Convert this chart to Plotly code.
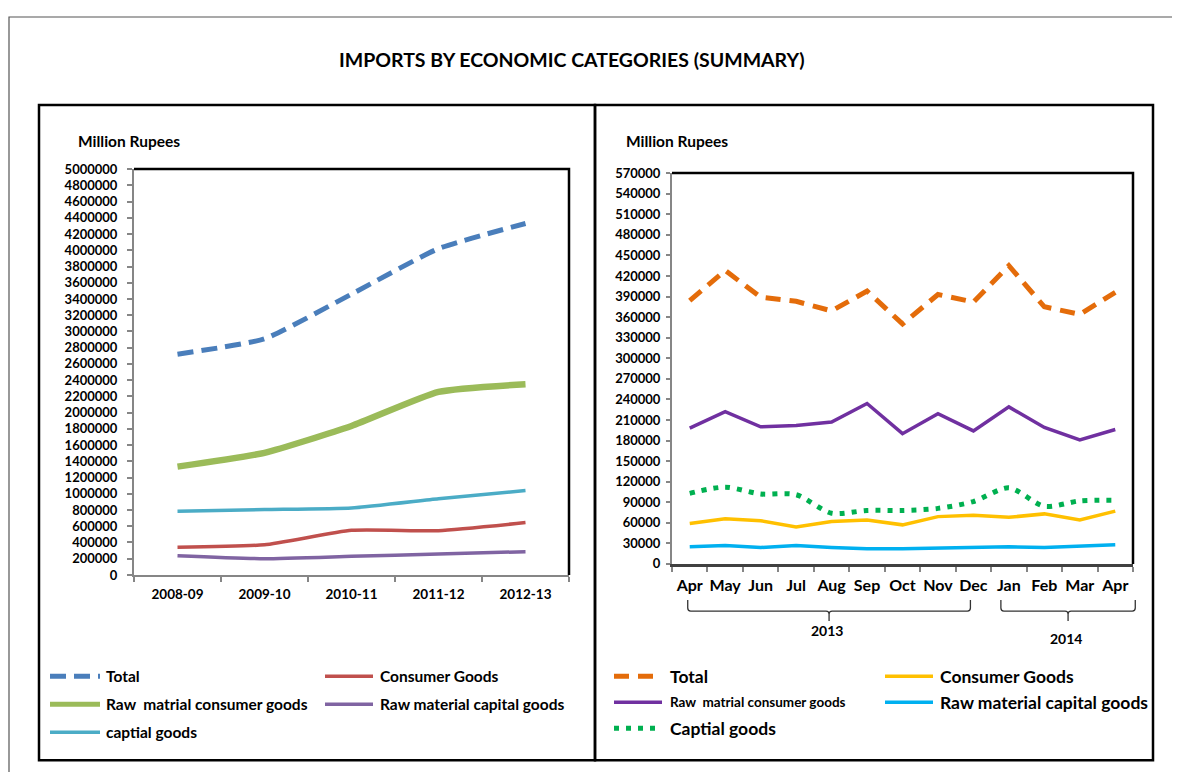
import plotly.graph_objects as go

# ---------------- data: left panel (annual) ----------------
years = ["2008-09", "2009-10", "2010-11", "2011-12", "2012-13"]
annual_total = [2720000, 2910000, 3460000, 4020000, 4330000]
annual_consumer = [340000, 372000, 550000, 546000, 645000]
annual_raw_consumer = [1335000, 1505000, 1835000, 2255000, 2350000]
annual_raw_capital = [237000, 200000, 229000, 257000, 287000]
annual_capital = [785000, 805000, 825000, 938000, 1040000]

# ---------------- data: right panel (monthly) ----------------
months = ["Apr", "May", "Jun", "Jul", "Aug", "Sep", "Oct", "Nov", "Dec", "Jan", "Feb", "Mar", "Apr"]
month_years = ["2013", "2014"]
month_year_counts = [9, 4]
monthly_total = [384000, 428000, 389000, 383000, 369000, 398000, 350000, 393000, 382000, 435000, 375000, 364000, 396000]
monthly_consumer = [59000, 66000, 63000, 54000, 62000, 64000, 57000, 69000, 71000, 68000, 73000, 64000, 77000]
monthly_raw_consumer = [198000, 222000, 200000, 202000, 207000, 234000, 190000, 219000, 194000, 229000, 199000, 181000, 196000]
monthly_raw_capital = [25000, 27000, 24000, 27000, 24000, 22000, 22000, 23000, 25000, 25000, 24000, 26000, 28000]
monthly_capital = [103000, 112000, 102000, 101000, 74000, 78000, 78000, 81000, 91000, 111000, 84000, 92000, 93000]

TITLE = "IMPORTS BY ECONOMIC CATEGORIES (SUMMARY)"
UNIT = "Million Rupees"

# page body keeps its default 8px margin, so the figure is sized to fill exactly 1180x780
PAGE_W, PAGE_H, BODY = 1180, 780, 8
W, H = PAGE_W - 2 * BODY, PAGE_H - 2 * BODY
# vertical calibration of the photographed page
SY, OY = 0.977, 8.4
FONT = "Lato"


def fx(px):
    return (px - BODY) / W


def fy(py):
    return 1 - ((py - OY) / SY - BODY) / H


# name, values, color, width, dash, legend column, legend row
left_series = [
    ("Total", annual_total, "#4A7EBB", 5, "16px,8px", 0, 0),
    ("Consumer Goods", annual_consumer, "#C0504D", 3.5, "solid", 1, 0),
    ("Raw \u00a0matrial consumer goods", annual_raw_consumer, "#9BBB59", 6.5, "solid", 0, 1),
    ("Raw material capital goods", annual_raw_capital, "#8064A2", 3.5, "solid", 1, 1),
    ("captial goods", annual_capital, "#4BACC6", 3.5, "solid", 0, 2),
]
# name, values, color, width, dash, line shape, legend font size, legend column, legend row
right_series = [
    ("Total", monthly_total, "#E46C0A", 5, "15px,9px", "linear", 17.5, 0, 0),
    ("Consumer Goods", monthly_consumer, "#FFC000", 3.5, "solid", "linear", 17.5, 1, 0),
    ("Raw \u00a0matrial consumer goods", monthly_raw_consumer, "#7030A0", 3.5, "solid", "linear", 13.5, 0, 1),
    ("Raw material capital goods", monthly_raw_capital, "#00B0F0", 3.5, "solid", "linear", 17.5, 1, 1),
    ("Captial goods", monthly_capital, "#00B050", 5, "5px,7px", "spline", 17.5, 0, 2),
]

fig = go.Figure()
shapes = []
annotations = []

for name, vals, color, width, dash, col, row in left_series:
    fig.add_trace(go.Scatter(
        x=years, y=vals, name=name, mode="lines", xaxis="x", yaxis="y",
        line=dict(color=color, width=width, dash=dash, shape="spline", smoothing=0.5),
        showlegend=False, hoverinfo="x+y+name"))

month_idx = list(range(len(months)))
for name, vals, color, width, dash, shp, fs, col, row in right_series:
    fig.add_trace(go.Scatter(
        x=month_idx, y=vals, name=name, mode="lines", xaxis="x2", yaxis="y2",
        line=dict(color=color, width=width, dash=dash, shape=shp,
                  **({"smoothing": 0.8} if shp == "spline" else {})),
        showlegend=False, hoverinfo="y+name"))

# ---- geometry (reference pixels) ----
L_X0, L_X1, L_Y0, L_Y1 = 134, 569, 169, 574
R_X0, R_X1, R_Y0, R_Y1 = 672, 1133, 173, 563

tick_font = dict(family=FONT, size=13, color="black", weight="bold")
axis_gray = "#868686"

fig.update_layout(
    width=W, height=H, autosize=False,
    margin=dict(l=0, r=0, t=0, b=0),
    paper_bgcolor="white", plot_bgcolor="white",
    font=dict(family=FONT, color="black"),
    xaxis=dict(domain=[fx(L_X0), fx(L_X1)], anchor="y", type="category",
               categoryorder="array", categoryarray=years, range=[-0.5, len(years) - 0.5],
               tickson="boundaries", ticks="outside", ticklen=5, tickcolor=axis_gray, tickwidth=1.5,
               showline=True, linecolor=axis_gray, linewidth=2, showgrid=False, zeroline=False,
               tickfont=dict(family=FONT, size=13.5, color="black", weight="bold"),
               ticklabelstandoff=6),
    yaxis=dict(domain=[fy(L_Y1), fy(L_Y0)], anchor="x", range=[0, 5000000], dtick=200000,
               tickformat="d", ticks="outside", ticklen=5, tickcolor=axis_gray, tickwidth=1.5,
               showline=True, linecolor=axis_gray, linewidth=2, showgrid=False, zeroline=False,
               tickfont=tick_font, ticklabelstandoff=7),
    xaxis2=dict(domain=[fx(R_X0), fx(R_X1)], anchor="y2", range=[-0.5, len(months) - 0.5],
                tickmode="array", tickvals=month_idx, ticktext=months, ticks="",
                minor=dict(tick0=0.5, dtick=1, ticks="outside", ticklen=5, tickcolor=axis_gray, tickwidth=1.5),
                showline=True, linecolor="#404040", linewidth=2.5, showgrid=False, zeroline=False,
                tickfont=dict(family=FONT, size=16, color="black", weight="bold"),
                ticklabelstandoff=5),
    yaxis2=dict(domain=[fy(R_Y1), fy(R_Y0)], anchor="x2", range=[0, 570000], dtick=30000,
                tickformat="d", ticks="outside", ticklen=4, tickcolor=axis_gray, tickwidth=1.5,
                showline=True, linecolor=axis_gray, linewidth=2, showgrid=False, zeroline=False,
                tickfont=tick_font, ticklabelstandoff=3),
)

# ---- plot-area top/right borders ----
for x0, x1, y0, y1 in [(L_X0, L_X1, L_Y0, L_Y1), (R_X0, R_X1, R_Y0, R_Y1)]:
    shapes.append(dict(type="path", xref="paper", yref="paper",
                       path=f"M {fx(x0)},{fy(y0)} L {fx(x1)},{fy(y0)} L {fx(x1)},{fy(y1)}",
                       line=dict(color="black", width=2.5)))

# ---- panel boxes ----
shapes.append(dict(type="rect", xref="paper", yref="paper", x0=fx(39), x1=fx(595), y0=fy(759), y1=fy(105),
                   line=dict(color="black", width=2.5)))
shapes.append(dict(type="rect", xref="paper", yref="paper", x0=fx(595), x1=fx(1153), y0=fy(759), y1=fy(105),
                   line=dict(color="black", width=2.5)))
# ---- outer frame (as close to the page corner as the page allows) ----
shapes.append(dict(type="path", xref="paper", yref="paper",
                   path=f"M {fx(9)},-0.02 L {fx(9)},{1 - 1 / H} L 1.02,{1 - 1 / H}",
                   line=dict(color="#555555", width=1.2)))


def text(txt, px, py, size, xanchor="center"):
    annotations.append(dict(text=f"<b>{txt}</b>", x=fx(px), y=fy(py), xref="paper", yref="paper",
                            xanchor=xanchor, yanchor="middle", showarrow=False,
                            font=dict(family=FONT, size=size, color="black")))


text(TITLE, 572, 60, 19.5)
for px in (76, 624):
    text(UNIT, px, 141, 15.5, "left")

# ---- year brackets under the monthly axis ----
cat_w = (R_X1 - R_X0) / len(months)
bracket_adj = {"2013": (-2, -3, 629), "2014": (-8, 20, 637)}
start = 0
for yr, cnt in zip(month_years, month_year_counts):
    a0, a1, ly = bracket_adj[yr]
    bx0 = R_X0 + (start + 0.5) * cat_w + a0
    bx1 = R_X0 + (start + cnt - 0.5) * cat_w + a1
    bc = (bx0 + bx1) / 2
    ytop, ymid, ybot = 599, 610, 620
    r = 3
    path = (f"M {fx(bx0)},{fy(ytop)} L {fx(bx0)},{fy(ymid - r)} Q {fx(bx0)},{fy(ymid)} {fx(bx0 + r)},{fy(ymid)} "
            f"L {fx(bc - r)},{fy(ymid)} Q {fx(bc)},{fy(ymid)} {fx(bc)},{fy(ymid + r)} L {fx(bc)},{fy(ybot)} "
            f"M {fx(bc)},{fy(ymid + r)} Q {fx(bc)},{fy(ymid)} {fx(bc + r)},{fy(ymid)} "
            f"L {fx(bx1 - r)},{fy(ymid)} Q {fx(bx1)},{fy(ymid)} {fx(bx1)},{fy(ymid - r)} L {fx(bx1)},{fy(ytop)}")
    shapes.append(dict(type="path", xref="paper", yref="paper", path=path,
                       line=dict(color="#333333", width=1.3)))
    text(yr, bc - 2, ly, 14)
    start += cnt

# ---- manual legends ----
left_cols = [(50, 100, 104), (325, 373, 378)]
left_rows = [675, 703, 731]
for name, vals, color, width, dash, col, row in left_series:
    lx0, lx1, tx = left_cols[col]
    yy = left_rows[row]
    shapes.append(dict(type="line", xref="paper", yref="paper", x0=fx(lx0), x1=fx(lx1), y0=fy(yy), y1=fy(yy),
                       line=dict(color=color, width=min(width, 5), dash=dash)))
    text(name, tx, yy, 15.5, "left")

right_cols = [(614, 662, 668), (885, 933, 938)]
right_rows = [675, 701, 727]
for name, vals, color, width, dash, shp, fs, col, row in right_series:
    lx0, lx1, tx = right_cols[col]
    yy = right_rows[row]
    shapes.append(dict(type="line", xref="paper", yref="paper", x0=fx(lx0), x1=fx(lx1), y0=fy(yy), y1=fy(yy),
                       line=dict(color=color, width=min(width, 5), dash=dash)))
    text(name, tx, yy, fs, "left")

fig.update_layout(shapes=shapes, annotations=annotations)

fig.write_html("out.html", config={"displayModeBar": False})
